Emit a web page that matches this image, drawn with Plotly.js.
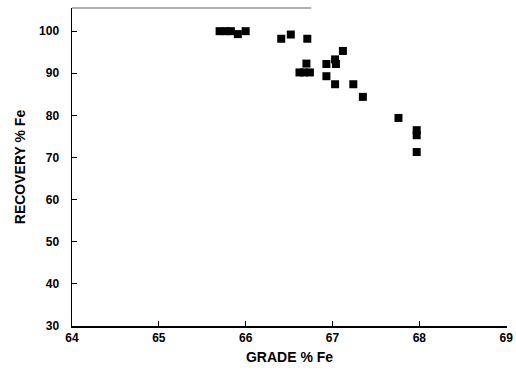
<!DOCTYPE html>
<html>
<head>
<meta charset="utf-8">
<script src="https://cdn.plot.ly/plotly-3.0.1.min.js"></script>
<style>html,body{margin:0;padding:0;background:#fff;}#chart{width:516px;height:379px;}</style>
</head>
<body>
<div id="chart"></div>
<script>
const grade = [65.70, 65.77, 65.83, 65.91, 66.00, 66.41, 66.52, 66.71, 67.12, 66.93, 67.03, 67.04, 66.70, 66.62, 66.67, 66.74, 66.93, 67.03, 67.24, 67.35, 67.76, 67.97, 67.97, 67.97];
const recovery = [100, 100, 100, 99.3, 100, 98.2, 99.2, 98.2, 95.3, 92.2, 93.3, 92.2, 92.3, 90.2, 90.2, 90.2, 89.3, 87.4, 87.4, 84.4, 79.4, 76.5, 75.3, 71.3];
const xTicks = [64, 65, 66, 67, 68, 69];
const yTicks = [30, 40, 50, 60, 70, 80, 90, 100];

const trace = {
  x: grade, y: recovery, type: 'scatter', mode: 'markers',
  marker: {symbol: 'square', size: 8, color: '#000'},
  hoverinfo: 'skip'
};
const tickFont = {family: 'Liberation Sans, Arial, sans-serif', size: 12, color: '#000'};
const titleFont = {family: 'Liberation Sans, Arial, sans-serif', size: 14, color: '#000'};
const layout = {
  width: 516, height: 379,
  margin: {l: 72, r: 9, t: 8, b: 53},
  paper_bgcolor: '#fff', plot_bgcolor: '#fff',
  showlegend: false,
  xaxis: {
    range: [64, 69.01], tickvals: xTicks, ticktext: xTicks.map(v => '<b>' + v + '</b>'),
    ticks: 'inside', ticklen: 5, tickwidth: 1, tickcolor: '#000',
    showline: true, linecolor: '#000', linewidth: 1.5,
    showgrid: false, zeroline: false, tickfont: tickFont,
    title: {text: '<b>GRADE % Fe</b>', font: titleFont, standoff: 8}
  },
  yaxis: {
    range: [30, 105.5], tickvals: yTicks, ticktext: yTicks.map(v => '<b>' + v + '</b>'),
    ticks: 'inside', ticklen: 5, tickwidth: 1, tickcolor: '#000',
    showline: true, linecolor: '#000', linewidth: 1.5,
    showgrid: false, zeroline: false, tickfont: tickFont,
    ticklabelstandoff: 9,
    title: {text: '<b>RECOVERY % Fe</b>', font: titleFont, standoff: 10}
  },
  shapes: [{type: 'line', xref: 'paper', yref: 'paper', x0: 0, x1: 0.55, y0: 1, y1: 1, line: {color: '#666', width: 1}}]
};
Plotly.newPlot('chart', [trace], layout, {displayModeBar: false, staticPlot: true});
</script>
</body>
</html>
